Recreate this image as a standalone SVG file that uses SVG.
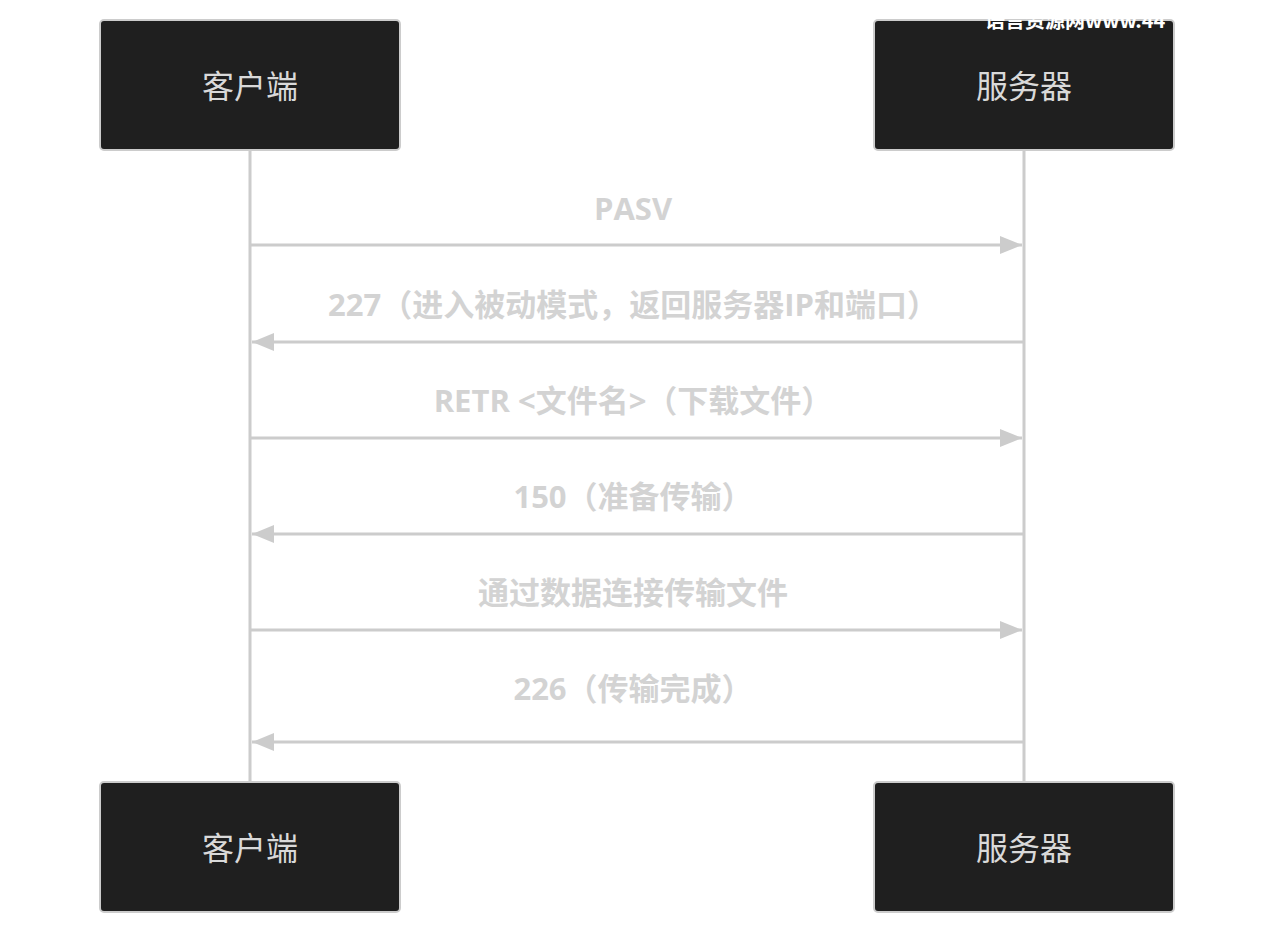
<svg xmlns="http://www.w3.org/2000/svg" width="1274" height="934" viewBox="0 0 1274 934">
<style>
.box{fill:#1f1f1f;stroke:#cccccc;stroke-width:2}
.bt{fill:#d9d9d9;font-family:"Open Sans","Noto Sans CJK SC",sans-serif;font-size:32px;text-anchor:middle;dominant-baseline:central}
.life{stroke:#cccccc;stroke-width:3}
.msg{stroke:#cccccc;stroke-width:3;fill:none;marker-end:url(#ah)}
.ml{fill:#d3d3d3;font-family:"Open Sans","Noto Sans CJK SC",sans-serif;font-size:31px;font-weight:bold;text-anchor:middle;dominant-baseline:central}
</style>
<defs>
<marker id="ah" viewBox="0 0 22 18" refX="22" refY="9" markerWidth="22" markerHeight="18" orient="auto" markerUnits="userSpaceOnUse"><path d="M0,0 L22,9 L0,18 z" fill="#cccccc"/></marker>
<clipPath id="c"><rect x="874" y="0" width="300" height="40"/></clipPath>
</defs>
<rect width="1274" height="934" fill="#ffffff"/>
<g id="lifelines">
<line class="life" x1="250" y1="150" x2="250" y2="782"/>
<line class="life" x1="1024" y1="150" x2="1024" y2="782"/>
</g>
<g id="client-top"><rect class="box" x="100" y="20" width="300" height="130" rx="4"/><text class="bt" x="250" y="85">客户端</text></g>
<g id="server-top"><rect class="box" x="874" y="20" width="300" height="130" rx="4"/><text class="bt" x="1024" y="85">服务器</text></g>
<g id="client-bottom"><rect class="box" x="100" y="782" width="300" height="130" rx="4"/><text class="bt" x="250" y="847">客户端</text></g>
<g id="server-bottom"><rect class="box" x="874" y="782" width="300" height="130" rx="4"/><text class="bt" x="1024" y="847">服务器</text></g>
<text x="985" y="28" clip-path="url(#c)" fill="#ffffff" font-family="'Noto Sans CJK SC',sans-serif" font-size="20" font-weight="bold">语言资源网www.44</text>
<g id="connectors">
<line class="msg" x1="251" y1="245" x2="1022" y2="245"/>
<line class="msg" x1="1023" y1="342" x2="252" y2="342"/>
<line class="msg" x1="251" y1="438" x2="1022" y2="438"/>
<line class="msg" x1="1023" y1="534" x2="252" y2="534"/>
<line class="msg" x1="251" y1="630" x2="1022" y2="630"/>
<line class="msg" x1="1023" y1="742" x2="252" y2="742"/>
<text class="ml" x="633" y="208">PASV</text>
<text class="ml" x="633" y="304">227（进入被动模式，返回服务器IP和端口）</text>
<text class="ml" x="633" y="400">RETR &lt;文件名&gt;（下载文件）</text>
<text class="ml" x="633" y="496">150（准备传输）</text>
<text class="ml" x="633" y="592">通过数据连接传输文件</text>
<text class="ml" x="633" y="688">226（传输完成）</text>
</g>
</svg>
